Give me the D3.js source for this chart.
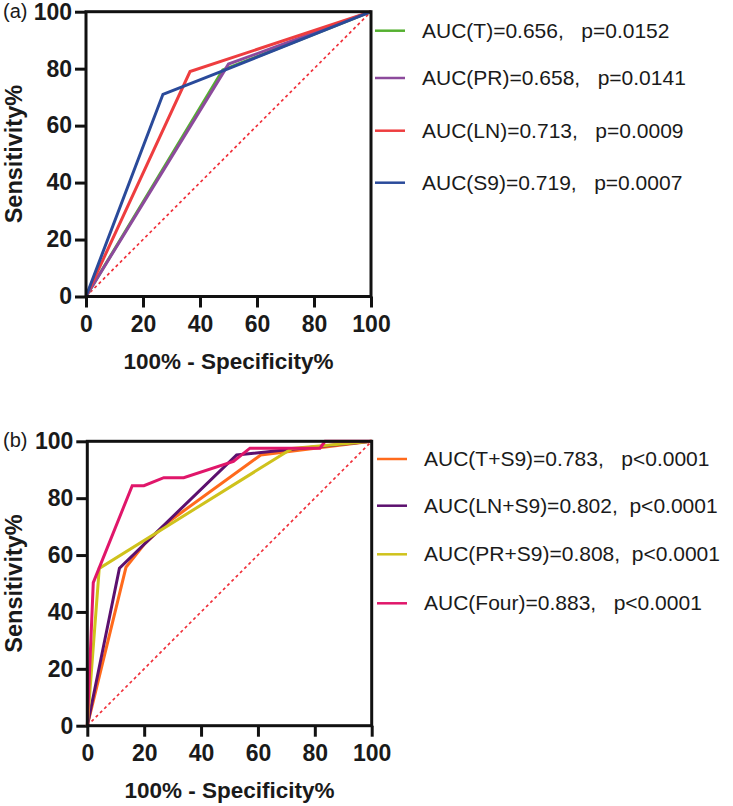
<!DOCTYPE html>
<html>
<head>
<meta charset="utf-8">
<script src="https://cdn.jsdelivr.net/npm/d3@7"></script>
<style>
  html, body { margin: 0; padding: 0; background: #fff; }
  svg { display: block; font-family: "Liberation Sans", Arial, sans-serif; }
</style>
</head>
<body>
<svg id="chart" width="733" height="806"></svg>
<script>
// ---------- data ----------
const xTicks = [0, 20, 40, 60, 80, 100];
const yTicks = [0, 20, 40, 60, 80, 100];
const diagonal = [[0, 0], [100, 100]];

// Panel (a): [1 - specificity %, sensitivity %]
const rocT  = [[0, 0], [48, 79.5], [100, 100]];
const rocPR = [[0, 0], [50, 81.6], [100, 100]];
const rocLN = [[0, 0], [36.5, 79], [100, 100]];
const rocS9 = [[0, 0], [27, 71], [50, 80], [100, 100]];
const labelsA = ["AUC(T)=0.656,   p=0.0152", "AUC(PR)=0.658,   p=0.0141",
                 "AUC(LN)=0.713,   p=0.0009", "AUC(S9)=0.719,   p=0.0007"];
const colorsA = ["#55b030", "#8c4a9c", "#ee3d3f", "#2a4a9a"];

// Panel (b)
const rocTS9  = [[0, 0], [13.6, 55.7], [20, 63.8], [29, 72], [61, 95.2], [100, 100]];
const rocLNS9 = [[0, 0], [11.3, 55.4], [52.5, 95.2], [71, 97.1], [100, 100]];
const rocPRS9 = [[0, 0], [4.2, 55.3], [72, 97.5], [100, 100]];
const rocFour = [[0, 0], [2.1, 50.3], [15.8, 84.4], [19.9, 84.4], [26.9, 87.2], [33.9, 87.2],
                 [51.4, 92.9], [57.2, 97.6], [81.8, 97.6], [83.6, 100], [100, 100]];
const labelsB = ["AUC(T+S9)=0.783,   p<0.0001", "AUC(LN+S9)=0.802,  p<0.0001",
                 "AUC(PR+S9)=0.808,  p<0.0001", "AUC(Four)=0.883,   p<0.0001"];
const colorsB = ["#ff6a1c", "#5c106e", "#cfc21c", "#e0166a"];

// ---------- drawing ----------
const svg = d3.select("#chart");

function panel(opts) {
  const { left, right, top, bottom, series, colors, labels, tag, tagY, legendX, legendY } = opts;
  const x = d3.scaleLinear().domain([0, 100]).range([left, right]);
  const y = d3.scaleLinear().domain([0, 100]).range([bottom, top]);
  const g = svg.append("g");

  // axes
  const xa = g.append("g").attr("transform", `translate(0,${bottom})`)
    .call(d3.axisBottom(x).tickValues(xTicks).tickSize(11).tickSizeOuter(0).tickPadding(8));
  const ya = g.append("g").attr("transform", `translate(${left},0)`)
    .call(d3.axisLeft(y).tickValues(yTicks).tickSize(11).tickSizeOuter(0).tickPadding(3));
  [xa, ya].forEach(a => {
    a.select(".domain").remove();
    a.selectAll(".tick line").attr("stroke", "#111").attr("stroke-width", 3);
    a.selectAll(".tick text").attr("fill", "#1a1a1a")
      .style("font-size", "23px").style("font-weight", "bold")
      .style("font-family", "'Liberation Sans', Arial, sans-serif");
  });

  // diagonal reference
  const line = d3.line().x(d => x(d[0])).y(d => y(d[1]));
  g.append("path").datum(diagonal).attr("d", line)
    .attr("fill", "none").attr("stroke", "#f0303a").attr("stroke-width", 1.7)
    .attr("stroke-dasharray", "3 3");

  // ROC curves
  series.forEach((s, i) => {
    g.append("path").datum(s).attr("d", line)
      .attr("fill", "none").attr("stroke", colors[i]).attr("stroke-width", 3)
      .attr("stroke-linejoin", "miter");
  });

  // frame
  g.append("rect").attr("x", left).attr("y", top)
    .attr("width", right - left).attr("height", bottom - top)
    .attr("fill", "none").attr("stroke", "#111").attr("stroke-width", 3);

  // axis titles
  g.append("text").attr("x", (left + right) / 2).attr("y", bottom + 72)
    .attr("text-anchor", "middle").style("font-size", "22.5px").style("font-weight", "bold")
    .attr("fill", "#1a1a1a").text("100% - Specificity%");
  g.append("text").attr("transform", `translate(22,${(top + bottom) / 2}) rotate(-90)`)
    .attr("text-anchor", "middle").style("font-size", "23.5px").style("font-weight", "bold")
    .attr("fill", "#1a1a1a").text("Sensitivity%");

  // panel tag
  g.append("text").attr("x", 3).attr("y", tagY).style("font-size", "20px")
    .attr("fill", "#1a1a1a").text(tag);

  // legend
  labels.forEach((lab, i) => {
    const ly = legendY[i];
    g.append("line").attr("x1", legendX).attr("x2", legendX + 30)
      .attr("y1", ly).attr("y2", ly).attr("stroke", colors[i]).attr("stroke-width", 2.5);
    g.append("text").attr("x", legendX + 47).attr("y", ly + 7)
      .attr("xml:space", "preserve").style("white-space", "pre")
      .style("font-size", "21px").attr("fill", "#1a1a1a").text(lab);
  });
}

panel({
  left: 86, right: 371, top: 11.7, bottom: 296.5,
  series: [rocT, rocPR, rocLN, rocS9], colors: colorsA, labels: labelsA,
  tag: "(a)", tagY: 17.5, legendX: 375, legendY: [30.7, 78, 130.7, 182.7]
});
panel({
  left: 87.3, right: 371.7, top: 441.3, bottom: 725.7,
  series: [rocTS9, rocLNS9, rocPRS9, rocFour], colors: colorsB, labels: labelsB,
  tag: "(b)", tagY: 446.5, legendX: 377, legendY: [459, 505.7, 554.3, 603.3]
});
</script>
</body>
</html>
